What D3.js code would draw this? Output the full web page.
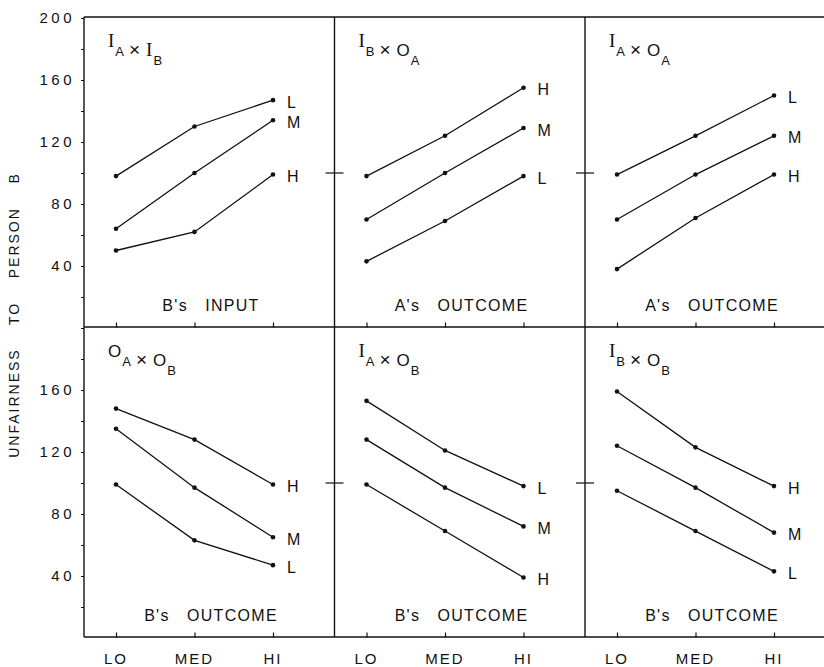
<!DOCTYPE html>
<html>
<head>
<meta charset="utf-8">
<script src="https://cdn.jsdelivr.net/npm/d3@7"></script>
<style>
  body { margin: 0; background: #fff; }
  text { font-family: "Liberation Sans", Arial, sans-serif; fill: #111; }
</style>
</head>
<body>
<script>
// levels along each panel's x axis
var levels = ["LO", "MED", "HI"];
var yTickValues = [40, 80, 120, 160, 200];

// panel titles as [letter, subscript] pairs
var titles = [
  [["I", "A"], ["I", "B"]],
  [["I", "B"], ["O", "A"]],
  [["I", "A"], ["O", "A"]],
  [["O", "A"], ["O", "B"]],
  [["I", "A"], ["O", "B"]],
  [["I", "B"], ["O", "B"]]
];
var xTitles = ["B's   INPUT", "A's   OUTCOME", "A's   OUTCOME",
               "B's   OUTCOME", "B's   OUTCOME", "B's   OUTCOME"];

// series (L / M / H) per panel, values at LO, MED, HI
var seriesNames = [
  ["L", "M", "H"], ["H", "M", "L"], ["L", "M", "H"],
  ["H", "M", "L"], ["L", "M", "H"], ["H", "M", "L"]
];
var seriesValues = [
  [[98, 130, 147], [64, 100, 134], [50, 62, 99]],
  [[98, 124, 155], [70, 100, 129], [43, 69, 98]],
  [[99, 124, 150], [70, 99, 124], [38, 71, 99]],
  [[148, 128, 99], [135, 97, 65], [99, 63, 47]],
  [[153, 121, 98], [128, 97, 72], [99, 69, 39]],
  [[159, 123, 98], [124, 97, 68], [95, 69, 43]]
];

var width = 824, height = 667;
var svg = d3.select("body").append("svg")
  .attr("width", width)
  .attr("height", height);

var panelW = 250.5, panelH = 310;
var frameLeft = 84, frameTop = 17;

var colX = d3.scaleLinear().domain([0, 2]).range([frameLeft, frameLeft + 2 * panelW]);
var rowY = d3.scaleLinear().domain([0, 1]).range([frameTop, frameTop + panelH]);
var x = d3.scalePoint().domain(levels).range([32, 189]);
var y = d3.scaleLinear().domain([0, 200]).range([panelH + 1, 1]);

var line = d3.line()
  .x(function(d, i) { return x(levels[i]); })
  .y(function(d) { return y(d); });

// frame
var frame = svg.append("g")
  .attr("stroke", "#111")
  .attr("stroke-width", 1.4)
  .attr("fill", "none");
[0, 1, 2].forEach(function(k) {
  var yy = frameTop + k * panelH;
  frame.append("line").attr("x1", frameLeft).attr("x2", width).attr("y1", yy).attr("y2", yy);
});
[0, 1, 2].forEach(function(c) {
  frame.append("line")
    .attr("x1", colX(c)).attr("x2", colX(c))
    .attr("y1", frameTop).attr("y2", frameTop + 2 * panelH);
});

d3.range(6).forEach(function(p) {
  var r = Math.floor(p / 3), c = p % 3;
  var g = svg.append("g")
    .attr("transform", "translate(" + colX(c) + "," + rowY(r) + ")");

  // x ticks
  g.append("g")
    .attr("transform", "translate(0," + (panelH + 0.5) + ")")
    .call(d3.axisTop(x).tickSize(5).tickFormat(""))
    .call(function(a) { a.select(".domain").remove(); })
    .selectAll("line").attr("stroke", "#111").attr("stroke-width", 1.2);

  // y axis (left only)
  if (c === 0) {
    var ya = g.append("g")
      .call(d3.axisLeft(y).tickValues(d3.range(20, 201, 20)).tickSize(3)
        .tickFormat(function(d) { return yTickValues.indexOf(d) >= 0 && !(r === 1 && d === 200) ? d : ""; }));
    ya.select(".domain").remove();
    ya.selectAll("line").attr("stroke", "#111").attr("stroke-width", 1);
    ya.selectAll("text")
      .attr("x", -9)
      .style("font-size", "15px")
      .style("letter-spacing", "3.5px")
      .attr("fill", "#111");
  } else {
    // cross tick at 100
    g.append("line")
      .attr("x1", -9).attr("x2", 9)
      .attr("y1", y(100)).attr("y2", y(100))
      .attr("stroke", "#111").attr("stroke-width", 1.2);
  }

  // x level labels on bottom row
  if (r === 1) {
    g.selectAll(".lvl").data(levels).join("text")
      .attr("x", function(d) { return x(d); })
      .attr("y", panelH + 27)
      .attr("text-anchor", "middle")
      .style("font-size", "15px")
      .style("letter-spacing", "2px")
      .text(function(d) { return d; });
  }

  // panel title
  var t = g.append("text")
    .attr("x", 24)
    .attr("y", 30)
    .style("font-size", "18px");
  titles[p].forEach(function(pair, i) {
    if (i === 1) {
      t.append("tspan").attr("dx", 5).style("font-size", "19px").text("\u00d7");
    }
    t.append("tspan")
      .attr("dx", i === 1 ? 6 : 0)
      .style("font-family", pair[0] === "I" ? "'Liberation Serif', serif" : null)
      .style("font-size", pair[0] === "I" ? "19px" : "17px")
      .text(pair[0]);
    t.append("tspan")
      .attr("dx", 1)
      .attr("dy", 9)
      .style("font-size", "13px")
      .text(pair[1]);
    t.append("tspan").attr("dy", -9).text("");
  });

  // x title
  g.append("text")
    .attr("x", 127)
    .attr("y", panelH - 16)
    .attr("text-anchor", "middle")
    .style("font-size", "16px")
    .style("letter-spacing", "1.3px")
    .style("white-space", "pre")
    .text(xTitles[p]);

  // lines and points
  seriesValues[p].forEach(function(vals, s) {
    g.append("path")
      .datum(vals)
      .attr("d", line)
      .attr("fill", "none")
      .attr("stroke", "#111")
      .attr("stroke-width", 1.3);
    g.selectAll(null).data(vals).join("circle")
      .attr("cx", function(d, i) { return x(levels[i]); })
      .attr("cy", function(d) { return y(d); })
      .attr("r", 2.3)
      .attr("fill", "#111");
    g.append("text")
      .attr("x", x("HI") + 14)
      .attr("y", y(vals[2]) + 2)
      .attr("dy", "0.35em")
      .style("font-size", "16px")
      .text(seriesNames[p][s]);
  });
});

// y axis title
svg.append("text")
  .attr("transform", "translate(19," + 315 + ") rotate(-90)")
  .attr("text-anchor", "middle")
  .style("font-size", "14px")
  .style("letter-spacing", "2px")
  .style("white-space", "pre")
  .text("UNFAIRNESS    TO    PERSON    B");
</script>
</body>
</html>
